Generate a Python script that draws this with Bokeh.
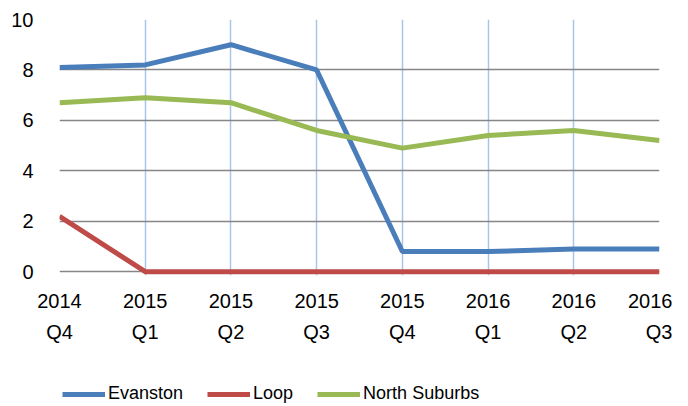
from bokeh.plotting import figure
from bokeh.layouts import column
from bokeh.models import FixedTicker, LinearAxis, Range1d, Legend, LegendItem
from bokeh.embed import file_html
from bokeh.resources import INLINE

years = ["2014", "2015", "2015", "2015", "2015", "2016", "2016", "2016"]
quarters = ["Q4", "Q1", "Q2", "Q3", "Q4", "Q1", "Q2", "Q3"]
evanston = [8.1, 8.2, 9.0, 8.0, 0.8, 0.8, 0.9, 0.9]
loop = [2.2, 0, 0, 0, 0, 0, 0, 0]
north_suburbs = [6.7, 6.9, 6.7, 5.6, 4.9, 5.4, 5.6, 5.2]
series_names = ["Evanston", "Loop", "North Suburbs"]
series_colors = ["#4a7ebb", "#be4b48", "#98b954"]
y_ticks = [0, 2, 4, 6, 8, 10]

FONT = "Liberation Sans"
xs = list(range(len(years)))
series = [evanston, loop, north_suburbs]

p = figure(frame_width=600, frame_height=256, output_backend="svg", toolbar_location=None,
           x_range=Range1d(0, 7), y_range=Range1d(-0.15, 10))
p.outline_line_color = None
p.min_border_left = 59
p.min_border_right = 13
p.min_border_top = 19
p.min_border_bottom = 0

p.xgrid.ticker = FixedTicker(ticks=xs)
p.xgrid.grid_line_color = "#a9c4eb"
p.xgrid.grid_line_width = 1.5
p.ygrid.ticker = FixedTicker(ticks=y_ticks)
p.ygrid.grid_line_color = "#868686"
p.ygrid.grid_line_width = 1.5

p.yaxis.ticker = FixedTicker(ticks=y_ticks)
p.yaxis.axis_line_color = None
p.yaxis.major_tick_line_color = None
p.yaxis.minor_tick_line_color = None
p.yaxis.major_label_standoff = 20
p.yaxis.major_label_text_font = FONT
p.yaxis.major_label_text_font_size = "20px"
p.yaxis.major_label_text_color = "#000000"

p.xaxis.ticker = FixedTicker(ticks=xs)
p.xaxis.major_label_overrides = {i: y for i, y in enumerate(years)}
p.xaxis.axis_line_color = None
p.xaxis.major_tick_line_color = None
p.xaxis.minor_tick_line_color = None
p.xaxis.major_label_standoff = 12
p.xaxis.major_label_text_font = FONT
p.xaxis.major_label_text_font_size = "20px"
p.xaxis.major_label_text_color = "#000000"

qaxis = LinearAxis(ticker=FixedTicker(ticks=xs),
                   major_label_overrides={i: q for i, q in enumerate(quarters)})
qaxis.axis_line_color = None
qaxis.major_tick_line_color = None
qaxis.minor_tick_line_color = None
qaxis.major_label_standoff = 4
qaxis.major_label_text_font = FONT
qaxis.major_label_text_font_size = "20px"
qaxis.major_label_text_color = "#000000"
p.add_layout(qaxis, "below")

for vals, col in zip(series, series_colors):
    p.line(xs, vals, line_color=col, line_width=5)

# legend strip below the chart
p2 = figure(width=672, height=60, output_backend="svg", toolbar_location=None,
            x_range=Range1d(0, 1), y_range=Range1d(0, 1), min_border=0)
p2.outline_line_color = None
p2.axis.visible = False
p2.grid.visible = False
items = []
for vals, col, name in zip(series, series_colors, series_names):
    r = p2.line(xs, vals, line_color=col, line_width=5, visible=False)
    items.append(LegendItem(label=name, renderers=[r]))

legend = Legend(items=items, orientation="horizontal", location=(3, 1),
                label_text_font=FONT, label_text_font_size="18px",
                label_text_color="#000000",
                glyph_width=43, label_standoff=3, spacing=24,
                padding=0, margin=0, border_line_color=None,
                background_fill_alpha=0)
p2.add_layout(legend, "center")

open("out.html", "w").write(file_html(column(p, p2), INLINE))
